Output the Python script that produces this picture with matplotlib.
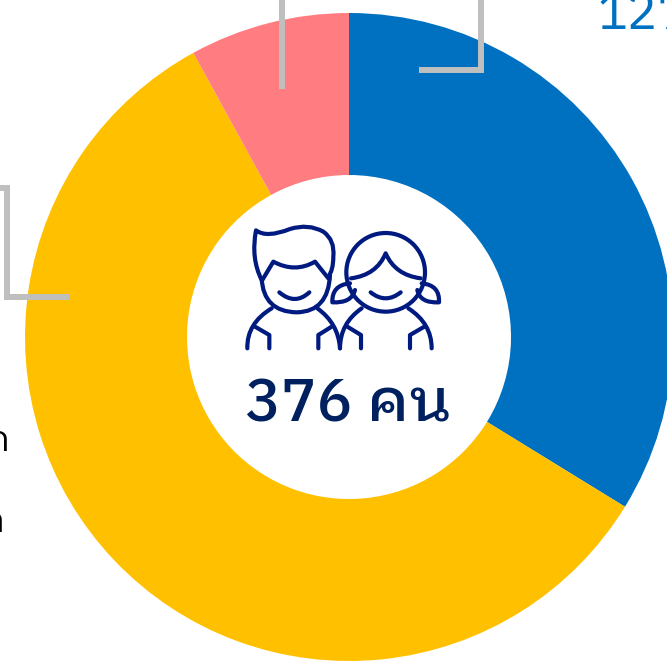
import matplotlib
matplotlib.use("Agg")
import matplotlib.pyplot as plt
from matplotlib.path import Path
from matplotlib.patches import PathPatch, Circle

W, H = 667, 664

# values
values = [127, 219, 30]
colors = ["#0070c0", "#ffc000", "#ff7c80"]
total_label = "376 คน"
blue_label = "127"
left_labels = ["ก", "ก"]

thai_font = ["IBM Plex Sans Thai Looped", "Noto Sans", "DejaVu Sans"]
line_color = "#bfbfbf"
icon_color = "#001a80"
text_color = "#002060"


def py(y):
    return H - y


fig = plt.figure(figsize=(W / 100, H / 100), dpi=100)
ax = fig.add_axes([0, 0, 1, 1])
ax.pie(values, colors=colors, startangle=90, counterclock=False, center=(349, py(337)),
       radius=324, wedgeprops={"width": 162, "linewidth": 0}, frame=False)
ax.set_xlim(0, W)
ax.set_ylim(0, H)
ax.set_aspect("auto")
ax.axis("off")

# leader lines
leaders = [
    ([282, 282], [-5, 89]),
    ([419, 481, 481], [70, 70, -5]),
    ([-5, 7, 7, 69], [188, 188, 297, 297]),
]
for xs, ys in leaders:
    ax.plot(xs, [py(y) for y in ys], color=line_color, lw=4.3, solid_joinstyle="miter",
            solid_capstyle="butt")


# icon, points are in the 3x zoom crop at (230, 215)
def pt(p):
    return (230 + p[0] / 3, py(215 + p[1] / 3))


def stroke(start, *segs):
    verts = [pt(start)]
    codes = [Path.MOVETO]
    for s in segs:
        if len(s) == 2 and not isinstance(s[0], tuple):
            verts.append(pt(s))
            codes.append(Path.LINETO)
        else:
            verts += [pt(s[0]), pt(s[1])]
            codes += [Path.CURVE3, Path.CURVE3]
    ax.add_patch(PathPatch(Path(verts, codes), fc="none", ec=icon_color, lw=3,
                           capstyle="round", joinstyle="round"))


# boy
stroke((95, 195), ((62, 130), (78, 46)), ((110, 70), (180, 42)), ((235, 25), (280, 50)),
       ((315, 75), (310, 125)), ((310, 165), (295, 185)))
stroke((97, 195), (130, 140), ((195, 175), (255, 140)), (295, 190))
stroke((95, 190), ((100, 290), (200, 292)), ((295, 290), (300, 180)))
stroke((148, 232), ((195, 272), (238, 232)))
stroke((125, 280), ((50, 325), (52, 400)))
stroke((75, 335), (118, 360), (118, 400))
stroke((262, 280), ((325, 325), (330, 400)))
stroke((305, 335), (265, 360), (265, 400))
# girl
c = pt((467, 172))
ax.add_patch(Circle(c, 118 / 3, fc="none", ec=icon_color, lw=3))
stroke((363, 190), ((440, 180), (467, 115)), ((495, 180), (572, 190)))
stroke((422, 232), ((467, 268), (512, 232)))
stroke((360, 205), ((305, 210), (307, 262)), ((365, 265), (375, 225)))
stroke((575, 205), ((630, 210), (627, 262)), ((570, 265), (562, 225)))
stroke((395, 280), ((330, 325), (330, 400)))
stroke((352, 335), (393, 360), (393, 400))
stroke((535, 280), ((605, 325), (605, 400)))
stroke((583, 335), (540, 360), (540, 400))

# texts
ax.text(348, py(422), total_label, family=thai_font, fontsize=43, weight="medium",
        color=text_color, ha="center", va="baseline")
ax.text(597, py(29), blue_label, family=thai_font, fontsize=36, color=colors[0],
        ha="left", va="baseline")
ax.text(10, py(451), left_labels[0], family=thai_font, fontsize=25, color="black",
        ha="right", va="baseline")
ax.text(5, py(532), left_labels[1], family=thai_font, fontsize=25, color="black",
        ha="right", va="baseline")

fig.savefig("out.png", dpi=100)
